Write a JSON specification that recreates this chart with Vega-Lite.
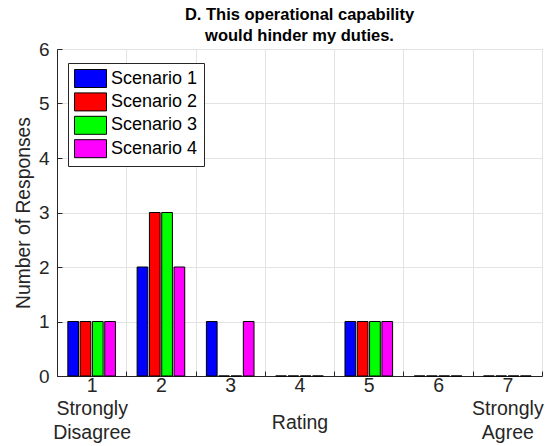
{
  "$schema": "https://vega.github.io/schema/vega-lite/v6.json",
  "autosize": "none",
  "padding": {"left": 57, "top": 49, "right": 9, "bottom": 70},
  "width": 485,
  "height": 327,
  "background": "white",
  "title": {
    "text": ["D. This operational capability", "would hinder my duties."],
    "font": "Liberation Sans",
    "fontSize": 16.5,
    "fontWeight": "bold",
    "color": "#000000",
    "lineHeight": 21,
    "anchor": "middle",
    "frame": "group",
    "offset": 6,
    "dy": 10
  },
  "config": {
    "view": {"stroke": "#e3e3e3", "strokeWidth": 1},
    "font": "Liberation Sans"
  },
  "data": {
    "values": [
      {"rating": 1, "scenario": "Scenario 1", "count": 1},
      {"rating": 1, "scenario": "Scenario 2", "count": 1},
      {"rating": 1, "scenario": "Scenario 3", "count": 1},
      {"rating": 1, "scenario": "Scenario 4", "count": 1},
      {"rating": 2, "scenario": "Scenario 1", "count": 2},
      {"rating": 2, "scenario": "Scenario 2", "count": 3},
      {"rating": 2, "scenario": "Scenario 3", "count": 3},
      {"rating": 2, "scenario": "Scenario 4", "count": 2},
      {"rating": 3, "scenario": "Scenario 1", "count": 1},
      {"rating": 3, "scenario": "Scenario 2", "count": 0},
      {"rating": 3, "scenario": "Scenario 3", "count": 0},
      {"rating": 3, "scenario": "Scenario 4", "count": 1},
      {"rating": 4, "scenario": "Scenario 1", "count": 0},
      {"rating": 4, "scenario": "Scenario 2", "count": 0},
      {"rating": 4, "scenario": "Scenario 3", "count": 0},
      {"rating": 4, "scenario": "Scenario 4", "count": 0},
      {"rating": 5, "scenario": "Scenario 1", "count": 1},
      {"rating": 5, "scenario": "Scenario 2", "count": 1},
      {"rating": 5, "scenario": "Scenario 3", "count": 1},
      {"rating": 5, "scenario": "Scenario 4", "count": 1},
      {"rating": 6, "scenario": "Scenario 1", "count": 0},
      {"rating": 6, "scenario": "Scenario 2", "count": 0},
      {"rating": 6, "scenario": "Scenario 3", "count": 0},
      {"rating": 6, "scenario": "Scenario 4", "count": 0},
      {"rating": 7, "scenario": "Scenario 1", "count": 0},
      {"rating": 7, "scenario": "Scenario 2", "count": 0},
      {"rating": 7, "scenario": "Scenario 3", "count": 0},
      {"rating": 7, "scenario": "Scenario 4", "count": 0}
    ]
  },
  "mark": {"type": "bar", "stroke": "#000000", "strokeWidth": 1, "opacity": 1},
  "encoding": {
    "x": {
      "field": "rating",
      "type": "ordinal",
      "scale": {"domain": [1, 2, 3, 4, 5, 6, 7], "paddingInner": 0, "paddingOuter": 0},
      "axis": {
        "title": "Rating",
        "titleFont": "Liberation Sans",
        "titleFontSize": 19.5,
        "titleFontWeight": "normal",
        "titleColor": "#262626",
        "titleBaseline": "alphabetic",
        "titleY": 52,
        "labelAngle": 0,
        "labelFont": "Liberation Sans",
        "labelFontSize": 19.5,
        "labelColor": "#262626",
        "labelLineHeight": 23.5,
        "labelBaseline": "top",
        "labelPadding": 5,
        "labelExpr": "datum.value == 1 ? ['1', 'Strongly', 'Disagree'] : (datum.value == 7 ? ['7', 'Strongly', 'Agree'] : datum.label)",
        "tickBand": "extent",
        "tickSize": -5,
        "tickColor": "#262626",
        "domainColor": "#262626",
        "grid": true,
        "gridColor": "#e3e3e3",
        "gridWidth": 1
      }
    },
    "xOffset": {
      "field": "scenario",
      "type": "nominal",
      "scale": {"paddingInner": 0.13, "paddingOuter": 0.88}
    },
    "y": {
      "field": "count",
      "type": "quantitative",
      "scale": {"domain": [0, 6], "nice": false},
      "axis": {
        "title": "Number of Responses",
        "titleFont": "Liberation Sans",
        "titleFontSize": 19.3,
        "titleFontWeight": "normal",
        "titleColor": "#262626",
        "titlePadding": 5,
        "values": [0, 1, 2, 3, 4, 5, 6],
        "labelFont": "Liberation Sans",
        "labelFontSize": 19,
        "labelColor": "#262626",
        "labelPadding": 13,
        "tickSize": -5,
        "tickColor": "#262626",
        "domainColor": "#262626",
        "grid": true,
        "gridColor": "#e3e3e3",
        "gridWidth": 1
      }
    },
    "color": {
      "field": "scenario",
      "type": "nominal",
      "scale": {
        "domain": ["Scenario 1", "Scenario 2", "Scenario 3", "Scenario 4"],
        "range": ["#0000ff", "#ff0000", "#00ff00", "#ff00ff"]
      },
      "legend": {
        "title": null,
        "orient": "none",
        "legendX": 11,
        "legendY": 14,
        "padding": 6,
        "fillColor": "white",
        "strokeColor": "#262626",
        "symbolType": "M-1.7778,-1H1.7778V1H-1.7778Z",
        "symbolSize": 324,
        "symbolOffset": 7,
        "symbolStrokeColor": "#000000",
        "symbolStrokeWidth": 1,
        "symbolOpacity": 1,
        "labelFont": "Liberation Sans",
        "labelFontSize": 18,
        "labelColor": "#000000",
        "labelOffset": 11,
        "rowPadding": 0.4
      }
    }
  }
}
